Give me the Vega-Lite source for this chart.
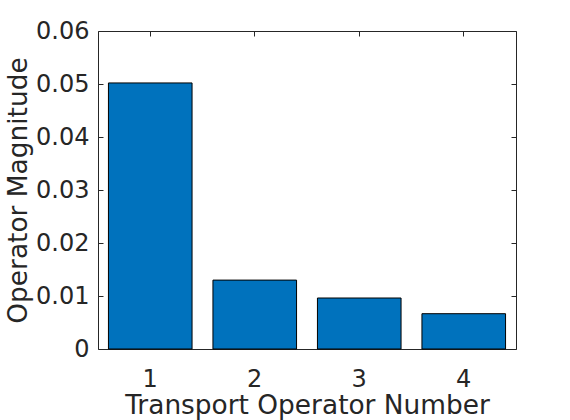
{
  "$schema": "https://vega.github.io/schema/vega-lite/v6.json",
  "autosize": "none",
  "width": 418,
  "height": 318,
  "padding": {"left": 98, "top": 31, "right": 54, "bottom": 71},
  "background": "white",
  "data": {"values": [
    {"n": "1", "v": 0.0502},
    {"n": "2", "v": 0.0130},
    {"n": "3", "v": 0.00962},
    {"n": "4", "v": 0.00666}
  ]},
  "config": {
    "view": {"stroke": "#262626", "strokeWidth": 1},
    "font": "DejaVu Sans",
    "axis": {
      "domain": false,
      "grid": false,
      "tickColor": "#262626",
      "tickSize": -5,
      "tickWidth": 1,
      "labelColor": "#262626",
      "titleColor": "#262626",
      "labelFont": "DejaVu Sans",
      "titleFont": "DejaVu Sans",
      "labelFontSize": 24,
      "titleFontSize": 26.4,
      "titleFontWeight": "normal"
    }
  },
  "layer": [
    {
      "mark": {"type": "bar", "fill": "#0072BD", "stroke": "#000000", "strokeWidth": 1},
      "encoding": {
        "x": {"field": "n", "type": "nominal",
          "scale": {"paddingInner": 0.2, "paddingOuter": 0.1},
          "axis": {"orient": "bottom", "title": "Transport Operator Number", "labelAngle": 0, "labelPadding": 23, "titlePadding": 1}},
        "y": {"field": "v", "type": "quantitative",
          "scale": {"domain": [0, 0.06], "nice": false},
          "axis": {"orient": "left", "title": "Operator Magnitude", "values": [0, 0.01, 0.02, 0.03, 0.04, 0.05, 0.06], "format": "~g", "labelPadding": 14, "titlePadding": 3}}
      }
    },
    {
      "mark": {"type": "bar", "opacity": 0},
      "encoding": {
        "x": {"field": "n", "type": "nominal",
          "axis": {"orient": "top", "title": null, "labels": false}},
        "y": {"field": "v", "type": "quantitative",
          "axis": {"orient": "right", "title": null, "labels": false, "values": [0, 0.01, 0.02, 0.03, 0.04, 0.05, 0.06]}}
      }
    }
  ],
  "resolve": {"axis": {"x": "independent", "y": "independent"}}
}
